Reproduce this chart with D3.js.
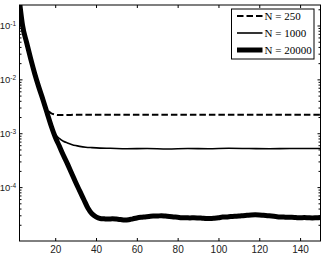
<!DOCTYPE html>
<html>
<head>
<meta charset="utf-8">
<script src="https://cdn.jsdelivr.net/npm/d3@7"></script>
<style>
  body { margin: 0; background: #fff; }
  svg { display: block; }
  .tick text { font-family: "Liberation Sans", Arial, sans-serif; fill: #222; }
</style>
</head>
<body>
<div id="chart"></div>
<script>
// data
var iter20000 = [2.5, 4, 6, 8, 10, 12, 14, 16, 18, 20, 22, 24, 26, 28, 30, 32, 34, 36, 38, 40,
  42, 44, 46, 48, 50, 52, 54, 56, 58, 60, 62, 64, 66, 68, 70, 72, 74, 76, 78, 80,
  82, 84, 86, 88, 90, 92, 94, 96, 98, 100, 102, 104, 106, 108, 110, 112, 114, 116, 118, 120,
  122, 124, 126, 128, 130, 132, 134, 136, 138, 140, 142, 144, 146, 148, 150];
var err20000 = [0.28, 0.1, 0.048, 0.024, 0.0126, 7.1e-3, 4.2e-3, 2.4e-3, 1.38e-3, 8.5e-4,
  5.8e-4, 3.9e-4, 2.7e-4, 1.82e-4, 1.23e-4, 8.5e-5, 5.9e-5, 4.1e-5, 3.2e-5, 2.8e-5,
  2.62e-5, 2.58e-5, 2.55e-5, 2.58e-5, 2.55e-5, 2.5e-5, 2.45e-5, 2.48e-5, 2.58e-5, 2.68e-5,
  2.75e-5, 2.8e-5, 2.85e-5, 2.9e-5, 2.9e-5, 2.95e-5, 2.9e-5, 2.85e-5, 2.8e-5, 2.75e-5,
  2.7e-5, 2.7e-5, 2.68e-5, 2.7e-5, 2.68e-5, 2.65e-5, 2.62e-5, 2.62e-5, 2.65e-5, 2.7e-5,
  2.78e-5, 2.8e-5, 2.85e-5, 2.88e-5, 2.9e-5, 2.95e-5, 3.0e-5, 3.05e-5, 3.07e-5, 3.05e-5,
  3.0e-5, 2.95e-5, 2.9e-5, 2.85e-5, 2.8e-5, 2.78e-5, 2.75e-5, 2.75e-5, 2.72e-5, 2.7e-5,
  2.72e-5, 2.7e-5, 2.68e-5, 2.7e-5, 2.72e-5];

var iter1000 = [2.5, 4, 6, 8, 10, 12, 14, 16, 18, 19, 20, 22, 24, 26, 28, 30, 32, 35, 38, 42,
  47, 55, 65, 75, 85, 95, 105, 115, 125, 135, 150];
var err1000 = [0.28, 0.1, 0.048, 0.024, 0.0126, 7.1e-3, 4.2e-3, 2.4e-3, 1.4e-3, 1.12e-3,
  9.6e-4, 8.0e-4, 7.1e-4, 6.6e-4, 6.2e-4, 5.9e-4, 5.7e-4, 5.5e-4, 5.4e-4, 5.3e-4,
  5.25e-4, 5.15e-4, 5.2e-4, 5.1e-4, 5.2e-4, 5.15e-4, 5.25e-4, 5.2e-4, 5.15e-4, 5.2e-4, 5.2e-4];

var iter250 = [2.5, 4, 6, 8, 10, 12, 13, 14, 15, 16, 17, 18, 20, 22, 25, 30, 40, 60, 80, 100, 120, 150];
var err250 = [0.28, 0.1, 0.048, 0.024, 0.0126, 7.1e-3, 5.5e-3, 4.1e-3, 3.3e-3, 2.8e-3, 2.5e-3,
  2.35e-3, 2.22e-3, 2.17e-3, 2.17e-3, 2.2e-3, 2.2e-3, 2.2e-3, 2.2e-3, 2.2e-3, 2.2e-3, 2.2e-3];

var xTicks = [20, 40, 60, 80, 100, 120, 140];
var yTicks = [1e-4, 1e-3, 1e-2, 1e-1];
var legendLabels = ["N = 250", "N = 1000", "N = 20000"];

/* ****** Size ****** */
var width = 324, height = 260;
var margin = { top: 5, right: 3.5, bottom: 19, left: 19.5 };

var svg = d3.select("#chart").append("svg")
  .attr("width", width)
  .attr("height", height);

var x = d3.scaleLinear().domain([2.5, 150]).range([margin.left, width - margin.right]);
var y = d3.scaleLog().domain([1e-5, 0.24]).range([height - margin.bottom, margin.top]);

svg.append("clipPath").attr("id", "plot")
  .append("rect")
  .attr("x", margin.left).attr("y", margin.top)
  .attr("width", width - margin.left - margin.right)
  .attr("height", height - margin.top - margin.bottom);

// minor ticks 2..9 per decade
var minor = [];
for (var e = -5; e <= -1; e++) {
  for (var m = 2; m <= 9; m++) {
    var v = m * Math.pow(10, e);
    if (v < 0.24) minor.push(v);
  }
}

/* ****** Axes ****** */
var xBottom = svg.append("g")
  .attr("transform", "translate(0," + (height - margin.bottom) + ")")
  .call(d3.axisBottom(x).tickValues(xTicks).tickSizeInner(-3).tickSizeOuter(0).tickPadding(5));
xBottom.selectAll("text").attr("font-size", 10);

svg.append("g")
  .attr("transform", "translate(0," + margin.top + ")")
  .call(d3.axisTop(x).tickValues(xTicks).tickSizeInner(-3).tickSizeOuter(0).tickFormat(""));

var yLeft = svg.append("g")
  .attr("transform", "translate(" + margin.left + ",0)")
  .call(d3.axisLeft(y).tickValues(yTicks).tickSizeInner(-3).tickSizeOuter(0).tickPadding(3.5)
    .tickFormat(""));

yLeft.selectAll(".tick text")
  .attr("font-size", 9.5)
  .each(function (d) {
    var t = d3.select(this);
    t.append("tspan").text("10");
    t.append("tspan").attr("dy", "-0.45em").attr("font-size", 6.5).text(Math.round(Math.log10(d)));
  });

svg.append("g")
  .attr("transform", "translate(" + margin.left + ",0)")
  .call(d3.axisLeft(y).tickValues(minor).tickSizeInner(-2).tickSizeOuter(0).tickFormat(""));

svg.append("g")
  .attr("transform", "translate(" + (width - margin.right) + ",0)")
  .call(d3.axisRight(y).tickValues(yTicks).tickSizeInner(-3).tickSizeOuter(0).tickFormat(""));

svg.append("g")
  .attr("transform", "translate(" + (width - margin.right) + ",0)")
  .call(d3.axisRight(y).tickValues(minor).tickSizeInner(-2).tickSizeOuter(0).tickFormat(""));

svg.selectAll(".domain").remove();
svg.selectAll(".tick line").attr("stroke", "#000");

/* ****** Lines ****** */
var line = d3.line()
  .curve(d3.curveMonotoneX)
  .x(function (d) { return x(d[0]); })
  .y(function (d) { return y(d[1]); });

var series = [
  { xs: iter250, ys: err250, w: 2, dash: "6.5,3" },
  { xs: iter1000, ys: err1000, w: 1.6, dash: null },
  { xs: iter20000, ys: err20000, w: 5, dash: null }
];

var lines = svg.append("g").attr("clip-path", "url(#plot)");
series.forEach(function (s) {
  lines.append("path")
    .datum(d3.zip(s.xs, s.ys))
    .attr("fill", "none")
    .attr("stroke", "#000")
    .attr("stroke-width", s.w)
    .attr("stroke-dasharray", s.dash)
    .attr("stroke-linejoin", "round")
    .attr("d", line);
});

// frame
svg.append("rect")
  .attr("x", margin.left).attr("y", margin.top)
  .attr("width", width - margin.left - margin.right)
  .attr("height", height - margin.top - margin.bottom)
  .attr("fill", "none").attr("stroke", "#000").attr("stroke-width", 1);

/* ****** Legend ****** */
var lg = svg.append("g").attr("transform", "translate(231.5,9)");
lg.append("rect")
  .attr("width", 82.5).attr("height", 50)
  .attr("fill", "#fff").attr("stroke", "#000").attr("stroke-width", 1);

legendLabels.forEach(function (label, i) {
  var s = series[i];
  var cy = 7 + i * 17;
  lg.append("line")
    .attr("x1", 5.5).attr("x2", 31).attr("y1", cy).attr("y2", cy)
    .attr("stroke", "#000").attr("stroke-width", s.w)
    .attr("stroke-dasharray", s.dash);
  lg.append("text")
    .attr("x", 33).attr("y", cy)
    .attr("dominant-baseline", "central")
    .attr("font-family", "Liberation Serif, Times New Roman, serif")
    .attr("font-size", 11)
    .text(label);
});
</script>
</body>
</html>
